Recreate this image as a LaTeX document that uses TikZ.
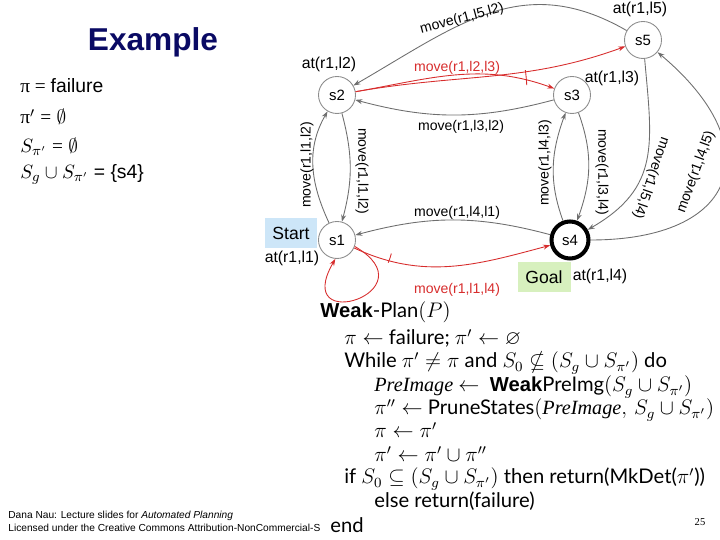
\documentclass[tikz,border=0pt]{standalone}
\usepackage{amssymb}
\usepackage{fontspec}
\setmainfont{Liberation Sans}
\newfontfamily\timesfont{Liberation Serif}
\newfontfamily\algofont{Lato}
\usetikzlibrary{arrows.meta}

\definecolor{edgegray}{RGB}{110,110,110}
\definecolor{stategray}{RGB}{140,140,140}
\definecolor{actred}{RGB}{215,45,45}
\definecolor{startblue}{RGB}{205,230,248}
\definecolor{goalgreen}{RGB}{215,240,190}
\definecolor{titlenavy}{RGB}{10,10,100}

\newcommand{\preimg}{{\timesfont\itshape PreImage}}

\begin{document}
\begin{tikzpicture}[x=0.02cm,y=0.02cm,
    state/.style={circle,draw=stategray,line width=0.5pt,minimum size=0.74cm,inner sep=0pt,
      font=\fontsize{8.5}{10}\selectfont},
    trans/.style={edgegray,line width=0.5pt,-{Stealth[length=4pt,width=2.8pt]}},
    act/.style={actred,line width=0.5pt,-{Stealth[length=4pt,width=2.8pt]}},
    lbl/.style={font=\fontsize{8}{9}\selectfont,inner sep=0pt},
    atlbl/.style={font=\fontsize{9}{10}\selectfont,inner sep=0pt},
    tag/.style={minimum width=1.06cm,minimum height=0.6cm,inner sep=0pt,
      font=\fontsize{10}{12}\selectfont},
    given/.style={anchor=base west,inner sep=0pt,font=\fontsize{11}{13}\selectfont},
    algo/.style={anchor=base west,inner sep=0pt,font=\algofont\fontsize{11.5}{13}\selectfont},
    foot/.style={anchor=base west,inner sep=0pt,font=\fontsize{5.8}{7}\selectfont}]
  \useasboundingbox (0,0) rectangle (720,540);

  % title and current values
  \node[font=\fontsize{18}{20}\selectfont\bfseries,text=titlenavy] (title) at (153,498) {Example};
  \node[given] (pi) at (20,447) {{\timesfont π = }failure};
  \node[given] (pip) at (20,416) {{\timesfont π}$'$ {\timesfont =} $\emptyset$};
  \node[given] (spip) at (20,387) {$S_{\pi'}$ {\timesfont =} $\emptyset$};
  \node[given] (sgs) at (20,361) {$S_g \cup S_{\pi'}$ = \{s4\}};

  % states
  \node[state] (s1) at (337,300) {s1};
  \node[state] (s2) at (337,445) {s2};
  \node[state] (s3) at (572,445) {s3};
  \node[state,line width=2.3pt,draw=black] (s4) at (570,300) {s4};
  \node[state] (s5) at (643,500) {s5};

  \node[tag,fill=startblue] (start) at (291,307) {Start};
  \node[tag,fill=goalgreen] (goal) at (544,263) {Goal};

  \node[atlbl] (at1) at (292,282) {at(r1,l1)};
  \node[atlbl] (at2) at (329,476) {at(r1,l2)};
  \node[atlbl] (at3) at (612,462) {at(r1,l3)};
  \node[atlbl] (at4) at (600,264) {at(r1,l4)};
  \node[atlbl] (at5) at (640,531) {at(r1,l5)};

  % transitions
  \draw[trans] (s5) to[out=150,in=30,looseness=1.1] (s2);
  \draw[act] (s2) to[out=10,in=200] (s5);
  \draw[act] (s2) to[out=10,in=160] (s3);
  \draw[trans] (s3) to[out=195,in=-15] (s2);
  \draw[trans] (s1) to[out=115,in=240] (s2);
  \draw[trans] (s2) to[out=-75,in=75] (s1);
  \draw[trans] (s4) to[out=110,in=250] (s3);
  \draw[trans] (s3) to[out=-70,in=70] (s4);
  \draw[trans] (s5) to[out=-85,in=30,looseness=1.2] (s4);
  \draw[trans] (s4) to[out=0,in=-40,looseness=1.9] (s5);
  \draw[trans] (s4) to[out=165,in=15] (s1);
  \draw[act] (s1) to[out=-25,in=195] (s4);
  \draw[act] (s1.-20) .. controls +(-30:90) and +(-120:90) .. (s1.-95);
  % and-arcs of the nondeterministic actions
  \draw[actred,line width=0.5pt] (s2.center) ++(3:190) arc (3:7.5:190);
  \draw[actred,line width=0.5pt] (s1.center) ++(-24:56) arc (-24:-14:56);

  \node[lbl,rotate=15] (m52) at (462,521) {move(r1,l5,l2)};
  \node[lbl,text=actred] (m23) at (457,472) {move(r1,l2,l3)};
  \node[lbl] (m32) at (461,413) {move(r1,l3,l2)};
  \node[lbl,rotate=90] (m12a) at (307,375) {move(r1,l1,l2)};
  \node[lbl,rotate=-90] (m12b) at (362,369) {move(r1,l1,l2)};
  \node[lbl,rotate=90] (m43) at (545,377) {move(r1,l4,l3)};
  \node[lbl,rotate=-90] (m34) at (602,368) {move(r1,l3,l4)};
  \node[lbl,rotate=-109] (m54) at (651,362) {move(r1,l5,l4)};
  \node[lbl,rotate=70] (m45) at (696,368) {move(r1,l4,l5)};
  \node[lbl] (m41) at (457,327) {move(r1,l4,l1)};
  \node[lbl,text=actred] (m14) at (457,250) {move(r1,l1,l4)};

  % the algorithm
  \node[algo] (a1) at (320,222) {{\rmfamily\bfseries Weak}-Plan$(P)$};
  \node[algo] (a2) at (344,195) {$\pi \leftarrow$ failure; $\pi' \leftarrow \varnothing$};
  \node[algo] (a3) at (344,172) {While $\pi' \neq \pi$ and $S_0 \nsubseteq (S_g \cup S_{\pi'})$ do};
  \node[algo] (a4) at (374,148) {\preimg\ $\leftarrow$\ \ {\rmfamily\bfseries Weak}PreImg$(S_g \cup S_{\pi'})$};
  \node[algo] (a5) at (374,125) {$\pi'' \leftarrow$ PruneStates$($\preimg$,\, S_g \cup S_{\pi'})$};
  \node[algo] (a6) at (374,102) {$\pi \leftarrow \pi'$};
  \node[algo] (a7) at (374,78) {$\pi' \leftarrow \pi' \cup \pi''$};
  \node[algo] (a8) at (344,56) {if $S_0 \subseteq (S_g \cup S_{\pi'})$ then return(MkDet($\pi'$))};
  \node[algo] (a9) at (374,32) {else return(failure)};
  \node[algo] (a10) at (330,7) {end};

  % footer
  \node[foot] (f1) at (8,21) {Dana Nau: Lecture slides for \textit{Automated Planning}};
  \node[foot] (f2) at (8,8) {Licensed under the Creative Commons Attribution-NonCommercial-S};
  \node[anchor=base,inner sep=0pt,font=\timesfont\fontsize{6}{7}\selectfont] (pg) at (700,14) {25};
\end{tikzpicture}
\end{document}
